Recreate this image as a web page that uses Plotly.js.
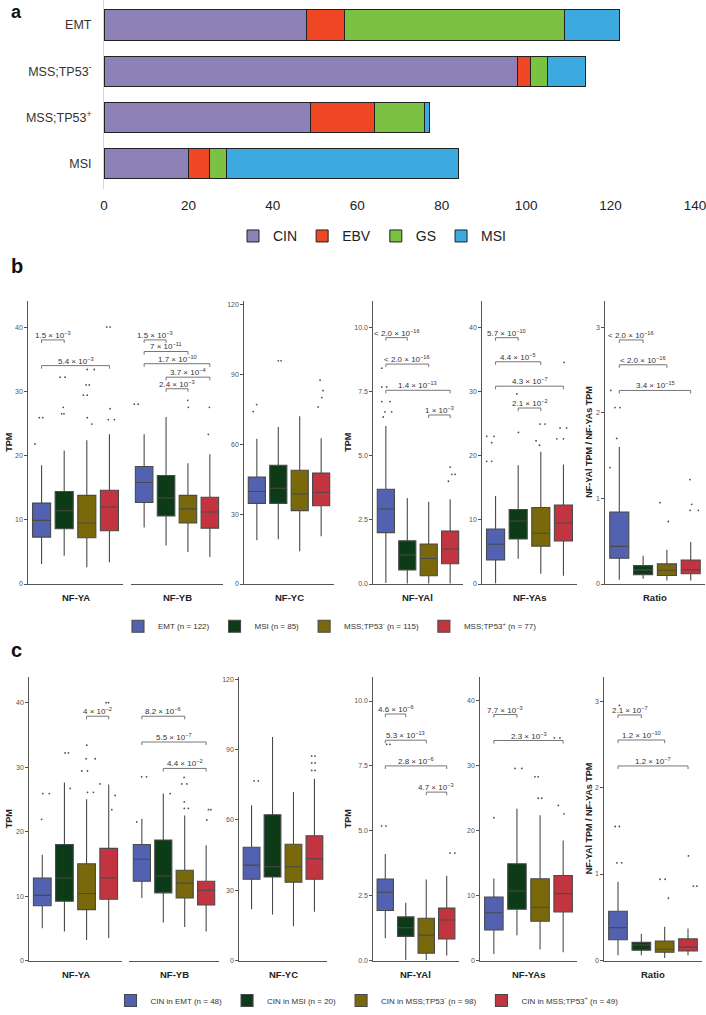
<!DOCTYPE html>
<html><head><meta charset="utf-8">
<script src="https://cdn.plot.ly/plotly-3.0.1.min.js"></script>
<style>html,body{margin:0;padding:0;background:#fff}#chart{width:706px;height:1015px}</style>
</head><body><div id="chart"></div>
<script>
// ---------- Panel a data ----------
const subtypeCats = ["EMT", "MSS;TP53<sup>-</sup>", "MSS;TP53<sup>+</sup>", "MSI"];
const subtypeNames = ["CIN", "EBV", "GS", "MSI"];
const cinCounts = [48, 98, 49, 20];
const ebvCounts = [9, 3, 15, 5];
const gsCounts  = [52, 4, 12, 4];
const msiCounts = [13, 9, 1, 55];
const xTicksA = [0, 20, 40, 60, 80, 100, 120, 140];

// ---------- Panels b / c data ----------
const facets = ["NF-YA", "NF-YB", "NF-YC", "NF-YAl", "NF-YAs", "Ratio"];
const groupsB = ["EMT (n = 122)", "MSI (n = 85)", "MSS;TP53<sup>-</sup> (n = 115)", "MSS;TP53<sup>+</sup> (n = 77)"];
const groupsC = ["CIN in EMT (n = 48)", "CIN in MSI (n = 20)", "CIN in MSS;TP53<sup>-</sup> (n = 98)", "CIN in MSS;TP53<sup>+</sup> (n = 49)"];

// rows = facets, columns = [EMT, MSI, MSS;TP53-, MSS;TP53+]
const bLow = [[3.1,4.4,2.6,3.4],[8.8,6.0,5.0,4.2],[18.8,19.2,14.1,20.5],[0.04,0.02,0.02,0.02],[0.1,3.95,1.6,1.3],[0.05,0.06,0.04,0.04]];
const bQ1  = [[7.3,8.6,7.2,8.3],[12.7,10.6,9.5,8.7],[34.6,34.6,31.5,33.6],[2.0,0.55,0.32,0.79],[3.74,7.0,5.9,6.7],[0.30,0.11,0.10,0.12]];
const bMed = [[9.9,11.4,9.5,12.0],[15.8,13.4,11.7,11.2],[39.7,41.1,38.6,39.4],[2.92,1.13,0.99,1.36],[6.2,9.8,7.9,9.5],[0.44,0.165,0.16,0.165]];
const bQ3  = [[12.6,14.4,13.8,14.6],[18.3,16.9,13.8,13.5],[45.9,51.0,48.8,47.6],[3.69,1.68,1.56,2.06],[8.56,11.6,11.9,12.3],[0.84,0.215,0.235,0.28]];
const bHigh= [[18.5,20.8,22.4,23.3],[23.3,26.0,18.8,20.2],[62.3,67.4,72.0,62.6],[6.15,3.35,3.2,3.3],[13.7,18.5,20.6,18.6],[1.60,0.33,0.40,0.49]];

const cLow = [[5.0,4.5,3.2,3.5],[9.7,5.9,5.2,4.5],[21.9,19.6,14.6,20.8],[0.86,0.02,0.02,0.19],[1.0,3.9,1.7,1.28],[0.06,0.06,0.03,0.06]];
const cQ1  = [[8.5,9.2,7.9,9.5],[12.3,10.5,9.7,8.6],[34.7,35.6,33.4,34.7],[1.93,0.93,0.28,0.83],[4.7,7.9,6.05,7.5],[0.24,0.12,0.095,0.11]];
const cMed = [[10.1,12.8,10.4,12.8],[15.7,13.1,12.0,10.9],[40.7,40.0,40.0,43.4],[2.63,1.26,0.98,1.56],[7.37,10.7,8.2,10.3],[0.38,0.18,0.13,0.155]];
const cQ3  = [[12.8,18.0,15.0,17.4],[18.0,18.7,14.0,12.3],[48.3,62.2,49.6,53.2],[3.14,1.68,1.63,2.02],[9.76,14.9,12.6,13.1],[0.57,0.21,0.225,0.25]];
const cHigh= [[16.4,27.6,25.0,27.3],[22.0,25.9,22.5,17.9],[66.2,95.4,71.9,77.5],[4.1,2.23,3.12,3.27],[12.65,23.4,22.4,18.5],[0.91,0.31,0.39,0.37]];

// outlying samples beyond the whiskers: [facet, jittered group position, value]
const outB = [
  ["NF-YA",0.9,25.9],["NF-YA",1.05,25.9],["NF-YA",0.71,21.8],["NF-YA",1.82,32.2],["NF-YA",2.04,32.2],["NF-YA",1.96,27.5],
  ["NF-YA",1.89,26.5],["NF-YA",1.99,26.5],["NF-YA",2.97,31],["NF-YA",3.11,31],["NF-YA",2.85,29.4],["NF-YA",3.02,29.4],
  ["NF-YA",3.02,25.9],["NF-YA",3.22,24.9],["NF-YA",3.02,33.4],["NF-YA",3.33,33.4],["NF-YA",4.03,27.3],["NF-YA",4.22,25.6],
  ["NF-YA",3.95,25.6],["NF-YA",3.88,40],["NF-YA",4.03,40],
  ["NF-YB",0.55,28],["NF-YB",0.73,28],["NF-YB",2.99,28.6],["NF-YB",3.02,27.5],["NF-YB",3.98,27.5],["NF-YB",3.93,23.3],
  ["NF-YC",0.99,77],["NF-YC",0.83,74],["NF-YC",2.0,95.8],["NF-YC",2.13,95.8],["NF-YC",3.95,87.5],["NF-YC",4.09,83],
  ["NF-YC",4.03,80],["NF-YC",3.86,76],
  ["NF-YAl",0.81,8.4],["NF-YAl",0.81,7.67],["NF-YAl",1.04,7.67],["NF-YAl",0.81,7.1],["NF-YAl",1.19,7.1],["NF-YAl",0.96,6.7],
  ["NF-YAl",1.27,6.7],["NF-YAl",0.88,6.5],["NF-YAl",4.0,4.55],["NF-YAl",4.08,4.27],["NF-YAl",4.23,4.27],["NF-YAl",3.92,4.0],
  ["NF-YAs",0.61,23],["NF-YAs",0.93,23],["NF-YAs",0.83,22],["NF-YAs",0.61,19.1],["NF-YAs",0.83,19.1],["NF-YAs",1.94,29.6],
  ["NF-YAs",2.01,23.6],["NF-YAs",2.97,24.9],["NF-YAs",3.19,24.9],["NF-YAs",2.79,22.3],["NF-YAs",2.94,21.6],["NF-YAs",3.85,24.3],
  ["NF-YAs",4.14,24.3],["NF-YAs",3.71,22.6],["NF-YAs",4.0,22.6],["NF-YAs",4.03,34.5],
  ["Ratio",0.64,2.26],["Ratio",0.82,2.06],["Ratio",1.03,2.06],["Ratio",0.89,1.70],["Ratio",0.61,1.36],["Ratio",2.71,0.95],
  ["Ratio",3.06,0.73],["Ratio",3.97,1.22],["Ratio",4.04,0.93],["Ratio",4.32,0.86],["Ratio",3.97,0.86]
];
const outC = [
  ["NF-YA",1.02,25.9],["NF-YA",1.32,25.9],["NF-YA",0.97,21.9],["NF-YA",2.03,32.2],["NF-YA",2.18,32.2],["NF-YA",2.26,26.7],
  ["NF-YA",3.01,33.4],["NF-YA",2.98,31.3],["NF-YA",3.39,31.3],["NF-YA",2.78,29.4],["NF-YA",3.04,29.4],["NF-YA",3.04,26.1],
  ["NF-YA",3.31,26.1],["NF-YA",3.88,40],["NF-YA",3.99,40],["NF-YA",3.61,27.4],["NF-YA",4.29,25.6],["NF-YA",4.14,23.4],
  ["NF-YB",0.99,28.5],["NF-YB",1.22,28.5],["NF-YB",0.76,21.5],["NF-YB",2.32,25.9],["NF-YB",2.97,28.4],["NF-YB",2.86,27.4],
  ["NF-YB",3.1,27.4],["NF-YB",2.98,24.6],["NF-YB",2.98,23.6],["NF-YB",3.17,23.6],["NF-YB",4.11,23.4],["NF-YB",4.22,23.4],
  ["NF-YB",4.03,21.8],
  ["NF-YC",1.12,76.6],["NF-YC",1.32,76.6],["NF-YC",3.87,87.2],["NF-YC",4.03,87.2],["NF-YC",3.87,84.3],["NF-YC",4.03,84.3],
  ["NF-YC",3.87,81.1],["NF-YC",4.03,81.1],
  ["NF-YAl",1.07,8.33],["NF-YAl",1.23,8.33],["NF-YAl",0.82,5.18],["NF-YAl",1.03,5.18],["NF-YAl",4.16,4.14],["NF-YAl",4.4,4.14],
  ["NF-YAs",1.0,22.0],["NF-YAs",1.92,29.6],["NF-YAs",2.21,29.6],["NF-YAs",2.78,28.3],["NF-YAs",2.92,28.3],["NF-YAs",2.92,25.0],
  ["NF-YAs",3.07,25.0],["NF-YAs",3.62,34.3],["NF-YAs",3.86,34.3],["NF-YAs",3.79,23.9],["NF-YAs",4.04,22.6],
  ["Ratio",1.06,2.95],["Ratio",0.88,1.55],["Ratio",1.06,1.55],["Ratio",0.95,1.13],["Ratio",1.16,1.13],["Ratio",2.8,0.94],
  ["Ratio",3.02,0.94],["Ratio",3.16,0.72],["Ratio",4.02,1.21],["Ratio",4.23,0.86],["Ratio",4.38,0.86]
];

// significance comparisons: [facet, group i, group j, bracket y, p label]
const sigB = [
  ["NF-YA",1,2,38.0,"1.5 × 10<sup>−3</sup>"],
  ["NF-YA",1,4,34.0,"5.4 × 10<sup>−3</sup>"],
  ["NF-YB",1,2,38.0,"1.5 × 10<sup>−3</sup>"],
  ["NF-YB",1,3,36.2,"7 × 10<sup>−11</sup>"],
  ["NF-YB",1,4,34.3,"1.7 × 10<sup>−10</sup>"],
  ["NF-YB",2,4,32.2,"3.7 × 10<sup>−4</sup>"],
  ["NF-YB",2,3,30.4,"2.4 × 10<sup>−3</sup>"],
  ["NF-YAl",1,2,9.59,"< 2.0 × 10<sup>−16</sup>"],
  ["NF-YAl",1,3,8.56,"< 2.0 × 10<sup>−16</sup>"],
  ["NF-YAl",1,4,7.54,"1.4 × 10<sup>−13</sup>"],
  ["NF-YAl",3,4,6.58,"1 × 10<sup>−3</sup>"],
  ["NF-YAs",1,2,38.35,"5.7 × 10<sup>−10</sup>"],
  ["NF-YAs",1,3,34.6,"4.4 × 10<sup>−5</sup>"],
  ["NF-YAs",1,4,30.8,"4.3 × 10<sup>−7</sup>"],
  ["NF-YAs",2,3,27.4,"2.1 × 10<sup>−2</sup>"],
  ["Ratio",1,2,2.85,"< 2.0 × 10<sup>−16</sup>"],
  ["Ratio",1,3,2.56,"< 2.0 × 10<sup>−16</sup>"],
  ["Ratio",1,4,2.26,"3.4 × 10<sup>−15</sup>"]
];
const sigC = [
  ["NF-YA",3,4,37.9,"4 × 10<sup>−2</sup>"],
  ["NF-YB",1,3,37.9,"8.2 × 10<sup>−6</sup>"],
  ["NF-YB",1,4,33.9,"5.5 × 10<sup>−7</sup>"],
  ["NF-YB",2,4,29.8,"4.4 × 10<sup>−2</sup>"],
  ["NF-YAl",1,2,9.5,"4.6 × 10<sup>−6</sup>"],
  ["NF-YAl",1,3,8.49,"5.3 × 10<sup>−13</sup>"],
  ["NF-YAl",1,4,7.5,"2.8 × 10<sup>−6</sup>"],
  ["NF-YAl",3,4,6.49,"4.7 × 10<sup>−3</sup>"],
  ["NF-YAs",1,2,37.9,"7.7 × 10<sup>−3</sup>"],
  ["NF-YAs",1,4,33.9,"2.3 × 10<sup>−3</sup>"],
  ["Ratio",1,2,2.84,"2.1 × 10<sup>−7</sup>"],
  ["Ratio",1,3,2.55,"1.2 × 10<sup>−10</sup>"],
  ["Ratio",1,4,2.25,"1.2 × 10<sup>−7</sup>"]
];

// ---------- styling / layout constants ----------
const W = 706, H = 1015;
const subtypeColors = ["#8E81B8", "#EF4623", "#7CC242", "#3CA9DF"];
const groupColors = ["#5261B0", "#0D3B17", "#7A690A", "#C2343F"];
const bXpx = [[28,123],[131,223],[244,334],[373,463],[482,577],[605,705]];
const cXpx = [[29,122],[129,219],[239,327],[373,459],[480,577],[604,702]];
const bYpx = [305, 591], cYpx = [685, 972];
const bTop = [44, 44, 121.3, 11.0, 44, 3.3];
const cTop = [44, 44, 121, 10.93, 43.7, 3.28];
const yTickVals = [[0,10,20,30,40],[0,10,20,30,40],[0,30,60,90,120],[0,2.5,5,7.5,10],[0,10,20,30,40],[0,1,2,3]];
const FONT = "Liberation Sans, Arial, Helvetica, sans-serif";

function xd(a, b) { return [a / W, b / W]; }
function yd(t, b) { return [1 - b / H, 1 - t / H]; }

const traces = [];
const layout = {
  width: W, height: H, margin: {l: 0, r: 0, t: 0, b: 0},
  paper_bgcolor: "#fff", plot_bgcolor: "rgba(0,0,0,0)",
  font: {family: FONT, color: "#222"},
  barmode: "stack", bargap: 0.344, boxmode: "overlay",
  showlegend: true, shapes: [], annotations: [],
  legend: {orientation: "h", x: 372 / W, xanchor: "center", y: 1 - 223 / H, yanchor: "top",
           font: {size: 14, color: "#222"}, traceorder: "normal", bgcolor: "rgba(0,0,0,0)", itemclick: false},
  legend2: {orientation: "h", x: 330 / W, xanchor: "center", y: 1 - 619 / H, yanchor: "top",
            font: {size: 8, color: "#333"}, traceorder: "normal", bgcolor: "rgba(0,0,0,0)", itemclick: false},
  legend3: {orientation: "h", x: 367 / W, xanchor: "center", y: 1 - 998 / H, yanchor: "top",
            font: {size: 8, color: "#333"}, traceorder: "normal", bgcolor: "rgba(0,0,0,0)", itemclick: false}
};

// ---------- Panel a ----------
const countsA = [cinCounts, ebvCounts, gsCounts, msiCounts];
subtypeNames.forEach((nm, i) => {
  traces.push({
    type: "bar", orientation: "h", name: nm, x: countsA[i], y: subtypeCats,
    xaxis: "x", yaxis: "y", marker: {color: subtypeColors[i], line: {color: "#222", width: 1}},
    legend: "legend", hoverinfo: "skip"
  });
});
layout.xaxis = {domain: xd(104, 695), range: [0, 140], tickvals: xTicksA, showline: false, zeroline: false,
  showgrid: false, ticks: "outside", ticklen: 4, tickcolor: "rgba(0,0,0,0)", tickfont: {size: 13.5, color: "#222"},
  ticklabeloverflow: "allow", anchor: "y"};
layout.yaxis = {domain: yd(0, 191), type: "category", categoryarray: subtypeCats, range: [3.54, -0.54],
  showline: true, linecolor: "#d6d6d6", linewidth: 1, ticks: "", ticklabelstandoff: 9,
  tickfont: {size: 12.5, color: "#333"}, showgrid: false, zeroline: false, anchor: "x"};

// ---------- Panels b / c ----------
function buildPanel(offset, xpx, ypx, tops, low, q1, med, q3, high, groups, legendId, sigs, outs, facetLabelY, titleY) {
  facets.forEach((fname, f) => {
    const n = offset + f;
    const xa = "xaxis" + n, ya = "yaxis" + n;
    layout[xa] = {domain: xd(xpx[f][0], xpx[f][1]), range: [0.4, 4.6], anchor: "y" + n,
      showline: true, linecolor: "#555", linewidth: 1.2, showticklabels: false, ticks: "",
      showgrid: false, zeroline: false};
    const hideY = (fname === "NF-YB");
    layout[ya] = {domain: yd(ypx[0], ypx[1]), range: [0, tops[f]], anchor: "x" + n,
      showline: !hideY, linecolor: "#555", linewidth: 1.2, showticklabels: !hideY,
      ticks: hideY ? "" : "outside", ticklen: 2.5, tickcolor: "#555", tickwidth: 1,
      tickvals: yTickVals[f], tickformat: fname === "NF-YAl" ? ".1f" : "",
      tickfont: {size: 7, color: "#555"}, showgrid: false, zeroline: false};
    groups.forEach((g, gi) => {
      traces.push({
        type: "box", name: g, legendgroup: legendId + g, legend: legendId, showlegend: f === 0,
        x: [gi + 1], q1: [q1[f][gi]], median: [med[f][gi]], q3: [q3[f][gi]],
        lowerfence: [low[f][gi]], upperfence: [high[f][gi]],
        xaxis: "x" + n, yaxis: "y" + n, width: 0.8, whiskerwidth: 0, boxpoints: false,
        fillcolor: groupColors[gi], line: {color: "#4a4a4a", width: 1.1}, hoverinfo: "skip"
      });
    });
    const pts = outs.filter(o => o[0] === fname);
    traces.push({type: "scatter", mode: "markers", x: pts.map(o => o[1]), y: pts.map(o => o[2]),
      xaxis: "x" + n, yaxis: "y" + n, showlegend: false, hoverinfo: "skip",
      marker: {size: 1.8, color: "rgba(20,20,20,0.75)"}});
    layout.annotations.push({text: "<b>" + fname + "</b>", xref: "x" + n + " domain", x: 0.5,
      yref: "paper", y: 1 - facetLabelY / H, showarrow: false, font: {size: 9.5, color: "#222"},
      xanchor: "center", yanchor: "middle"});
  });
  // brackets
  sigs.forEach(s => {
    const n = offset + facets.indexOf(s[0]);
    const tip = tops[facets.indexOf(s[0])] * 0.011;
    layout.shapes.push({type: "path", xref: "x" + n, yref: "y" + n,
      path: `M${s[1]},${s[3] - tip}L${s[1]},${s[3]}L${s[2]},${s[3]}L${s[2]},${s[3] - tip}`,
      line: {color: "#666", width: 0.9}});
    layout.annotations.push({text: s[4], xref: "x" + n, yref: "y" + n, x: (s[1] + s[2]) / 2, y: s[3],
      showarrow: false, xanchor: "center", yanchor: "bottom", yshift: -2, font: {size: 8, color: "#333"}});
  });
  // y titles
  [[9, "TPM"], [348, "TPM"], [589, "NF-YAl TPM / NF-YAs TPM"]].forEach(t => {
    layout.annotations.push({text: "<b>" + t[1] + "</b>", xref: "paper", yref: "paper",
      x: t[0] / W, y: 1 - titleY / H, textangle: -90, showarrow: false,
      xanchor: "center", yanchor: "middle", font: {size: 9, color: "#222"}});
  });
}
buildPanel(2, bXpx, bYpx, bTop, bLow, bQ1, bMed, bQ3, bHigh, groupsB, "legend2", sigB, outB, 605, 448);
buildPanel(8, cXpx, cYpx, cTop, cLow, cQ1, cMed, cQ3, cHigh, groupsC, "legend3", sigC, outC, 986, 829);

// panel letters
[["a", 0, 18], ["b", 256, 20], ["c", 645, 20]].forEach(p => {
  layout.annotations.push({text: "<b>" + p[0] + "</b>", xref: "paper", yref: "paper", x: 9 / W, y: 1 - p[1] / H,
    xanchor: "left", yanchor: "top", showarrow: false, font: {size: p[2], color: "#111"}});
});

Plotly.newPlot("chart", traces, layout, {staticPlot: true, displayModeBar: false});
</script></body></html>
